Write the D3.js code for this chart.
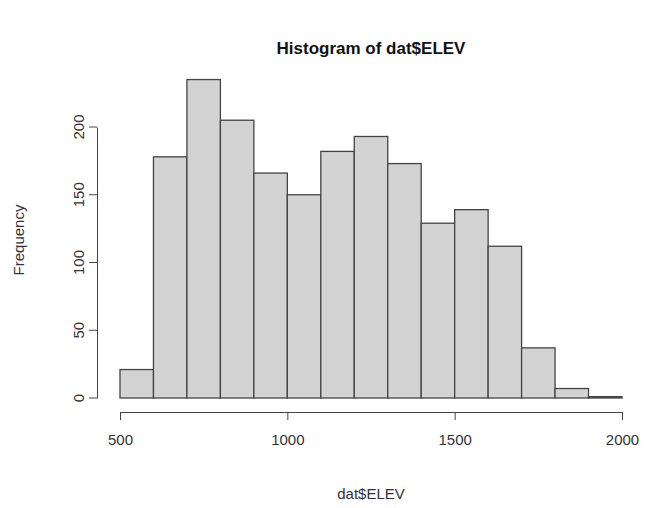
<!DOCTYPE html>
<html>
<head>
<script src="https://cdnjs.cloudflare.com/ajax/libs/d3/7.8.5/d3.min.js"></script>
<style>
  body { margin: 0; background: white; }
  text { font-family: Arial, "Liberation Sans", sans-serif; fill: #333; }
  .axis path, .axis line { stroke: #444; }
  .axis text { font-size: 15px; fill: #333; }
</style>
</head>
<body>
<svg id="main" width="647" height="508"></svg>
<script>
var binStarts = [500, 600, 700, 800, 900, 1000, 1100, 1200, 1300, 1400, 1500, 1600, 1700, 1800, 1900];
var counts = [21, 178, 235, 205, 166, 150, 182, 193, 173, 129, 139, 112, 37, 7, 1];
var binWidth = 100;
var xTicks = [500, 1000, 1500, 2000];
var yTicks = [0, 50, 100, 150, 200];

var svg = d3.select('#main');
var x = d3.scaleLinear().domain([500, 2000]).range([120, 622]);
var y = d3.scaleLinear().domain([0, 200]).range([398, 127]);

svg.selectAll('rect').data(counts).enter().append('rect')
  .attr('x', function(d, i) { return x(binStarts[i]); })
  .attr('width', function(d, i) { return x(binStarts[i] + binWidth) - x(binStarts[i]); })
  .attr('y', function(d) { return y(d); })
  .attr('height', function(d) { return y(0) - y(d); })
  .attr('fill', '#d3d3d3')
  .attr('stroke', '#444')
  .attr('stroke-width', 1.3);

svg.append('g').attr('class', 'axis')
  .attr('transform', 'translate(0,412)')
  .call(d3.axisBottom(x).tickValues(xTicks).tickFormat(d3.format('d'))
    .tickSize(8).tickPadding(14).tickSizeOuter(0));

var yAxis = svg.append('g').attr('class', 'axis')
  .attr('transform', 'translate(97,0)')
  .call(d3.axisLeft(y).tickValues(yTicks).tickSize(8).tickSizeOuter(0));
yAxis.selectAll('.tick').attr('transform', null);
yAxis.selectAll('.tick line').attr('y1', function(d) { return y(d); }).attr('y2', function(d) { return y(d); });
yAxis.selectAll('text')
  .attr('transform', function(d) { return 'rotate(-90,-18,' + y(d) + ')'; })
  .attr('x', -18).attr('y', function(d) { return y(d); })
  .attr('dy', '0.35em').attr('text-anchor', 'middle');

svg.append('text').attr('x', 371).attr('y', 54).attr('text-anchor', 'middle')
  .style('font-size', '17px').style('font-weight', 'bold').style('fill', '#111')
  .text('Histogram of dat$ELEV');
svg.append('text').attr('x', 371).attr('y', 499).attr('text-anchor', 'middle')
  .style('font-size', '15px').text('dat$ELEV');
svg.append('text').attr('transform', 'translate(24,240) rotate(-90)').attr('text-anchor', 'middle')
  .style('font-size', '15px').text('Frequency');
</script>
</body>
</html>
